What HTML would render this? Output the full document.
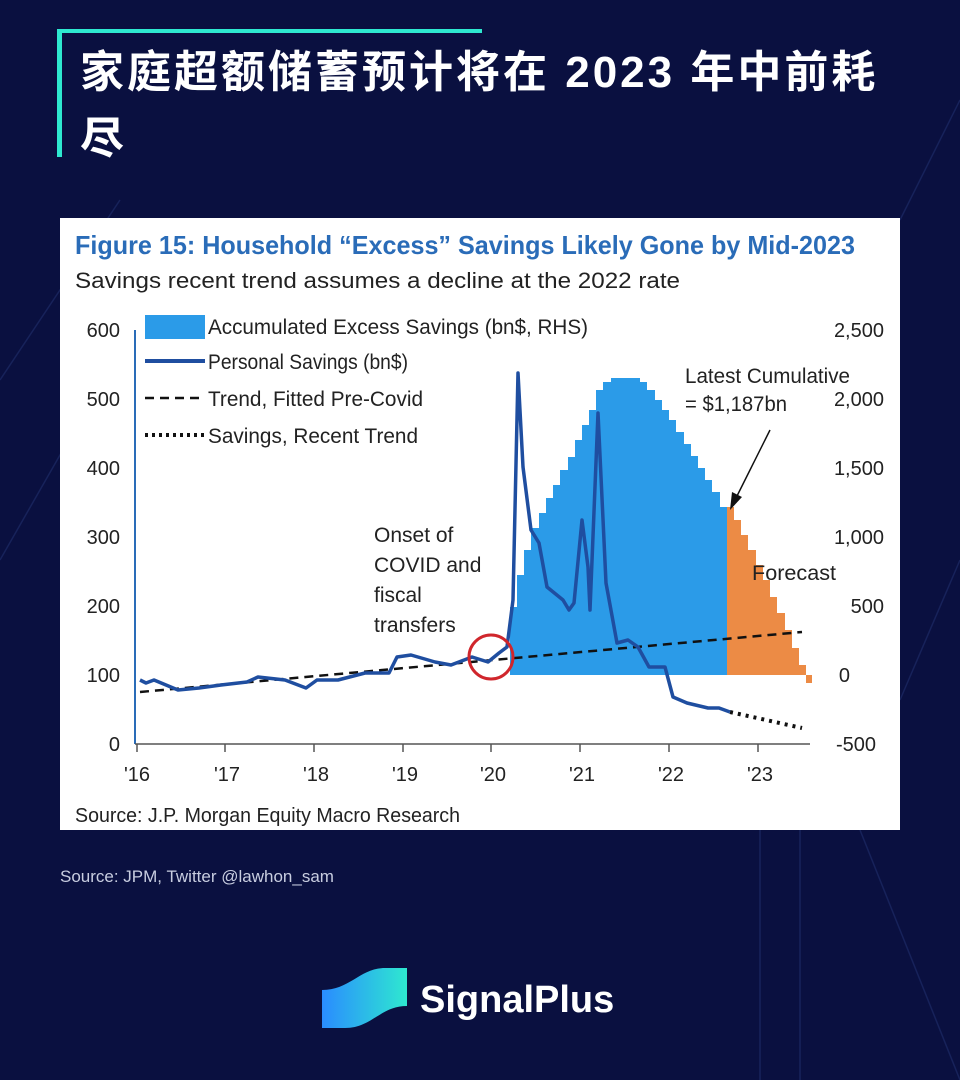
<!DOCTYPE html>
<html><head><meta charset="utf-8"><style>
body{margin:0;width:960px;height:1080px;background:#0a1040;overflow:hidden;position:relative;font-family:"Liberation Sans","Noto Sans CJK SC",sans-serif}
.t{position:absolute;left:80px;color:#fff;font-weight:bold;font-size:44px;letter-spacing:3px;line-height:66px;top:40px;width:870px;white-space:nowrap}
</style></head><body>
<svg width="960" height="1080" style="position:absolute;left:0;top:0">
<defs><linearGradient id="g" x1="0" x2="1"><stop offset="0" stop-color="#2a8cff"/><stop offset="1" stop-color="#2ee8d0"/></linearGradient></defs>
<g stroke="#1d2a66" stroke-width="1.5" opacity="0.7">
<line x1="0" y1="380" x2="120" y2="200"/><line x1="0" y1="560" x2="80" y2="420"/><line x1="900" y1="220" x2="960" y2="100"/><line x1="900" y1="700" x2="960" y2="560"/>
<line x1="760" y1="830" x2="760" y2="1080"/><line x1="800" y1="830" x2="800" y2="1080"/><line x1="860" y1="830" x2="960" y2="1080"/>
</g>
<rect x="57" y="29" width="5" height="128" fill="#2ee8d0"/>
<rect x="57" y="29" width="425" height="4" fill="#2ee8d0"/>
<rect x="60" y="218" width="840" height="612" fill="#fff"/>
<text x="75" y="254" font-size="26" font-weight="bold" fill="#2a6cb8" font-family="Liberation Sans" textLength="780" lengthAdjust="spacingAndGlyphs">Figure 15: Household “Excess” Savings Likely Gone by Mid-2023</text>
<text x="75" y="288" font-size="22" fill="#222" font-family="Liberation Sans" textLength="605" lengthAdjust="spacingAndGlyphs">Savings recent trend assumes a decline at the 2022 rate</text>
<polygon fill="#2b9be8" points="510,675 510,607 517,607 517,575 524,575 524,550 531,550 531,528 539,528 539,513 546,513 546,498 553,498 553,485 560,485 560,470 568,470 568,457 575,457 575,440 582,440 582,425 589,425 589,410 596,410 596,390 603,390 603,382 611,382 611,378 640,378 640,382 647,382 647,390 655,390 655,400 662,400 662,410 669,410 669,420 676,420 676,432 684,432 684,444 691,444 691,456 698,456 698,468 705,468 705,480 712,480 712,492 720,492 720,507 727,507 727,675"/>
<polygon fill="#ec8b45" points="727,675 727,507 734,507 734,520 741,520 741,535 748,535 748,550 756,550 756,565 763,565 763,580 770,580 770,597 777,597 777,613 785,613 785,630 792,630 792,648 799,648 799,665 806,665 806,683 812,683 812,675"/>
<line x1="135" y1="330" x2="135" y2="744" stroke="#2a6cb8" stroke-width="2"/>
<line x1="135" y1="744" x2="810" y2="744" stroke="#555" stroke-width="1.5"/>
<g stroke="#555" stroke-width="1.5">
<line x1="137" y1="744" x2="137" y2="752"/><line x1="225" y1="744" x2="225" y2="752"/><line x1="314" y1="744" x2="314" y2="752"/><line x1="403" y1="744" x2="403" y2="752"/><line x1="491" y1="744" x2="491" y2="752"/><line x1="580" y1="744" x2="580" y2="752"/><line x1="669" y1="744" x2="669" y2="752"/><line x1="758" y1="744" x2="758" y2="752"/>
</g>
<g font-size="20" fill="#222" font-family="Liberation Sans" text-anchor="end">
<text x="120" y="337">600</text><text x="120" y="406">500</text><text x="120" y="475">400</text><text x="120" y="544">300</text><text x="120" y="613">200</text><text x="120" y="682">100</text><text x="120" y="751">0</text>
</g>
<g font-size="20" fill="#222" font-family="Liberation Sans" text-anchor="end">
<text x="884" y="337">2,500</text><text x="884" y="406">2,000</text><text x="884" y="475">1,500</text><text x="884" y="544">1,000</text><text x="884" y="613">500</text><text x="850" y="682">0</text><text x="876" y="751">-500</text>
</g>
<g font-size="20" fill="#222" font-family="Liberation Sans" text-anchor="middle">
<text x="137" y="781">'16</text><text x="227" y="781">'17</text><text x="316" y="781">'18</text><text x="405" y="781">'19</text><text x="493" y="781">'20</text><text x="582" y="781">'21</text><text x="671" y="781">'22</text><text x="760" y="781">'23</text>
</g>
<line x1="140" y1="692" x2="802" y2="632" stroke="#111" stroke-width="2.5" stroke-dasharray="9,6"/>
<line x1="730" y1="712" x2="802" y2="728" stroke="#111" stroke-width="4" stroke-dasharray="3,5"/>
<polyline fill="none" stroke="#1f4ea0" stroke-width="3.5" stroke-linejoin="round" points="140,680 146,683 154,680 178,690 199,688 221,685 247,682 258,677 285,680 306,688 317,680 338,680 365,673 389,673 397,657 411,655 435,662 451,665 472,657 488,662 499,653 507,647 513,600 518,373 523,467 531,530 539,543 547,587 563,600 569,610 574,603 582,520 588,567 590,610 598,413 606,583 617,643 628,640 638,647 649,667 665,667 673,697 687,703 708,708 719,708 730,712"/>
<circle cx="491" cy="657" r="22" fill="none" stroke="#d0262c" stroke-width="3"/>
<rect x="145" y="315" width="60" height="24" fill="#2b9be8"/>
<line x1="145" y1="361" x2="205" y2="361" stroke="#1f4ea0" stroke-width="4"/>
<line x1="145" y1="398" x2="205" y2="398" stroke="#111" stroke-width="2.5" stroke-dasharray="9,6"/>
<line x1="145" y1="435" x2="205" y2="435" stroke="#111" stroke-width="4" stroke-dasharray="3,4"/>
<g font-size="21" fill="#222" font-family="Liberation Sans">
<text x="208" y="334" textLength="380" lengthAdjust="spacingAndGlyphs">Accumulated Excess Savings (bn$, RHS)</text>
<text x="208" y="369" textLength="200" lengthAdjust="spacingAndGlyphs">Personal Savings (bn$)</text>
<text x="208" y="406" textLength="215" lengthAdjust="spacingAndGlyphs">Trend, Fitted Pre-Covid</text>
<text x="208" y="443" textLength="210" lengthAdjust="spacingAndGlyphs">Savings, Recent Trend</text>
<text x="685" y="383" textLength="165" lengthAdjust="spacingAndGlyphs">Latest Cumulative</text>
<text x="685" y="411" textLength="102" lengthAdjust="spacingAndGlyphs">= $1,187bn</text>
<text x="752" y="580" textLength="84" lengthAdjust="spacingAndGlyphs">Forecast</text>
<text x="374" y="542">Onset of</text><text x="374" y="572">COVID and</text><text x="374" y="602">fiscal</text><text x="374" y="632">transfers</text>
<text x="75" y="822" font-size="20" textLength="385" lengthAdjust="spacingAndGlyphs">Source: J.P. Morgan Equity Macro Research</text>
</g>
<line x1="770" y1="430" x2="735" y2="500" stroke="#111" stroke-width="1.5"/>
<polygon points="730,510 732,492 742,497" fill="#111"/>
<text x="60" y="882" font-size="17" fill="#c8cde0" font-family="Liberation Sans">Source: JPM, Twitter @lawhon_sam</text>
<path d="M322,990 C350,990 360,968 385,968 L407,968 L407,1006 C380,1006 372,1028 345,1028 L322,1028 Z" fill="url(#g)"/>
<text x="420" y="1012" font-size="38" font-weight="bold" fill="#fff" font-family="Liberation Sans">SignalPlus</text>
</svg>
<div class="t">家庭超额储蓄预计将在 2023 年中前耗<br>尽</div>
</body></html>
